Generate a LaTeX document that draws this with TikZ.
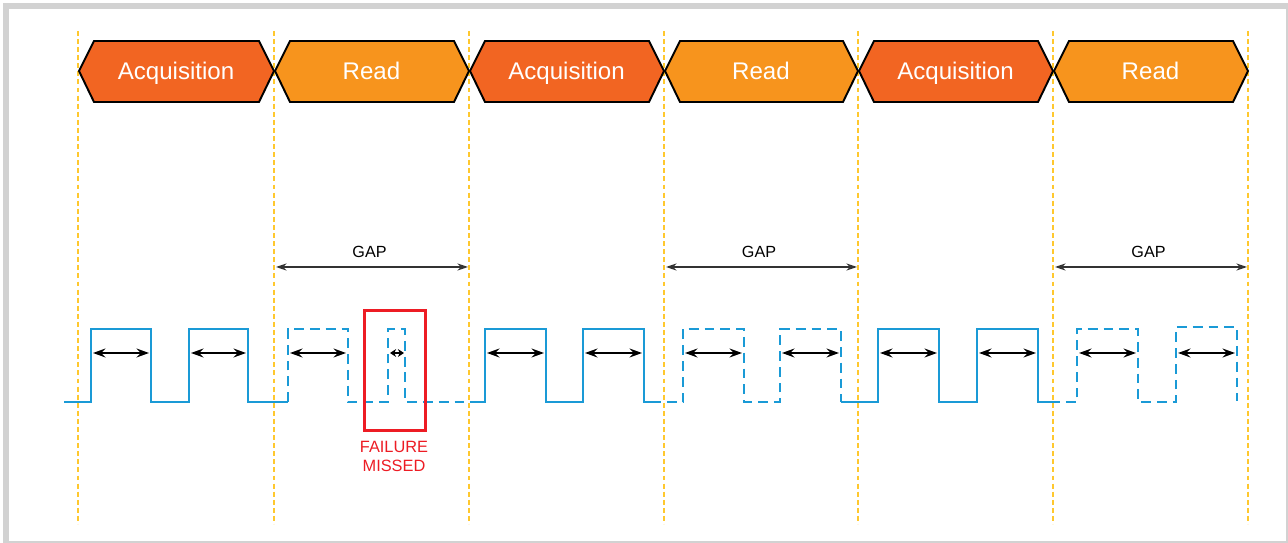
\documentclass[tikz,border=0pt]{standalone}
\usepackage{fontspec}
\setmainfont{Liberation Sans}
\usetikzlibrary{arrows.meta}

\definecolor{acqcol}{HTML}{F26522}
\definecolor{readcol}{HTML}{F7941D}
\definecolor{wavecol}{HTML}{1A9AD6}
\definecolor{guidecol}{HTML}{FFC82E}
\definecolor{failcol}{HTML}{ED1C24}
\definecolor{framecol}{HTML}{D2D2D2}

\begin{document}
\begin{tikzpicture}[x=0.02cm,y=-0.02cm,
    guide/.style={draw=guidecol,line width=0.6pt,dash pattern=on 2.8pt off 1.8pt},
    phase/.style={draw=black,line width=1.1pt},
    lbl/.style={text=white,font=\fontsize{13.7}{16}\selectfont,anchor=base,inner sep=0pt},
    wave/.style={draw=wavecol,line width=1.6pt},
    lost/.style={wave,dash pattern=on 5.6pt off 3.4pt},
    arr/.style={line width=1.3pt,<->,>={Stealth[length=7pt,width=5pt]}},
    gaparr/.style={draw=black!80,line width=0.8pt,<->,>={Stealth[length=6pt,width=4pt]}},
    gaptxt/.style={font=\fontsize{9.2}{11}\selectfont,anchor=base,inner sep=0pt},
    failtxt/.style={text=failcol,font=\fontsize{9.3}{11}\selectfont,anchor=base,inner sep=0pt}]

  % frame
  \fill[white] (0,0) rectangle (1288,543);
  \fill[framecol] (3,3) rectangle (1288,543);
  \fill[white] (9,9) rectangle (1286,541);
  \useasboundingbox (0,0) rectangle (1288,543);

  % window borders
  \foreach \x in {78,274,469,664,858,1053,1248}
    \draw[guide] (\x,31) -- (\x,524);

  % phases
  \foreach \a/\b/\c/\t [count=\i] in {78/274/acqcol/Acquisition,274/469/readcol/Read,469/664/acqcol/Acquisition,
      664/858/readcol/Read,858/1053/acqcol/Acquisition,1053/1248/readcol/Read} {
    \draw[phase,fill=\c] (\a+1,71) -- (\a+16,41) -- (\b-15,41) -- (\b,71) -- (\b-15,102) -- (\a+16,102) -- cycle;
    \node[lbl] (ph\i) at ({(\a+\b)/2},80) {\t};
  }

  % gaps
  \foreach \a/\b [count=\i] in {274/469,664/858,1053/1248} {
    \coordinate (g\i l) at (\a+2,267);
    \coordinate (g\i r) at (\b-1,267);
    \node[gaptxt] (gap\i) at ({(\a+\b)/2-2},258) {GAP};
    \draw[gaparr] (g\i l) -- (g\i r);
  }

  % signal
  \draw[wave] (64,402) -- (91,402) -- (91,329) -- (151,329) -- (151,402) -- (189,402) -- (189,329)
    -- (248,329) -- (248,402) -- (288,402);
  \draw[lost] (288,402) -- (288,329) -- (348,329) -- (348,402) -- (388,402) -- (388,329) -- (405,329)
    -- (405,402) -- (478,402);
  \draw[wave] (478,402) -- (485,402) -- (485,329) -- (546,329) -- (546,402) -- (583,402) -- (583,329)
    -- (644,329) -- (644,402) -- (651,402);
  \draw[lost] (651,402) -- (683,402) -- (683,329) -- (744,329) -- (744,402) -- (780,402) -- (780,329)
    -- (841,329) -- (841,402);
  \draw[wave] (841,402) -- (878,402) -- (878,329) -- (939,329) -- (939,402) -- (977,402) -- (977,329)
    -- (1038,329) -- (1038,402) -- (1050,402);
  \draw[lost] (1050,402) -- (1077,402) -- (1077,329) -- (1138,329) -- (1138,402) -- (1176,402) -- (1176,327)
    -- (1237,327) -- (1237,401);

  % pulse widths
  \foreach \a/\b [count=\i] in {91/151,189/248,288/348,485/546,583/644,683/744,780/841,878/939,977/1038,1077/1138,1176/1237} {
    \coordinate (p\i l) at (\a+2,353);
    \coordinate (p\i r) at (\b-2,353);
    \draw[arr] (p\i l) -- (p\i r);
  }
  \coordinate (q l) at (390,353);
  \coordinate (q r) at (404,353);
  \draw[line width=1.3pt,<->,>={Stealth[length=3.5pt,width=4.5pt]}] (q l) -- (q r);

  % missed failure
  \node[draw=failcol,line width=1.3pt,minimum width=1.22cm,minimum height=2.4cm,inner sep=0pt] (fail) at (395,370.5) {};
  \node[failtxt] (fail1) at (394,453) {FAILURE};
  \node[failtxt] (fail2) at (394,472) {MISSED};

\end{tikzpicture}
\end{document}
